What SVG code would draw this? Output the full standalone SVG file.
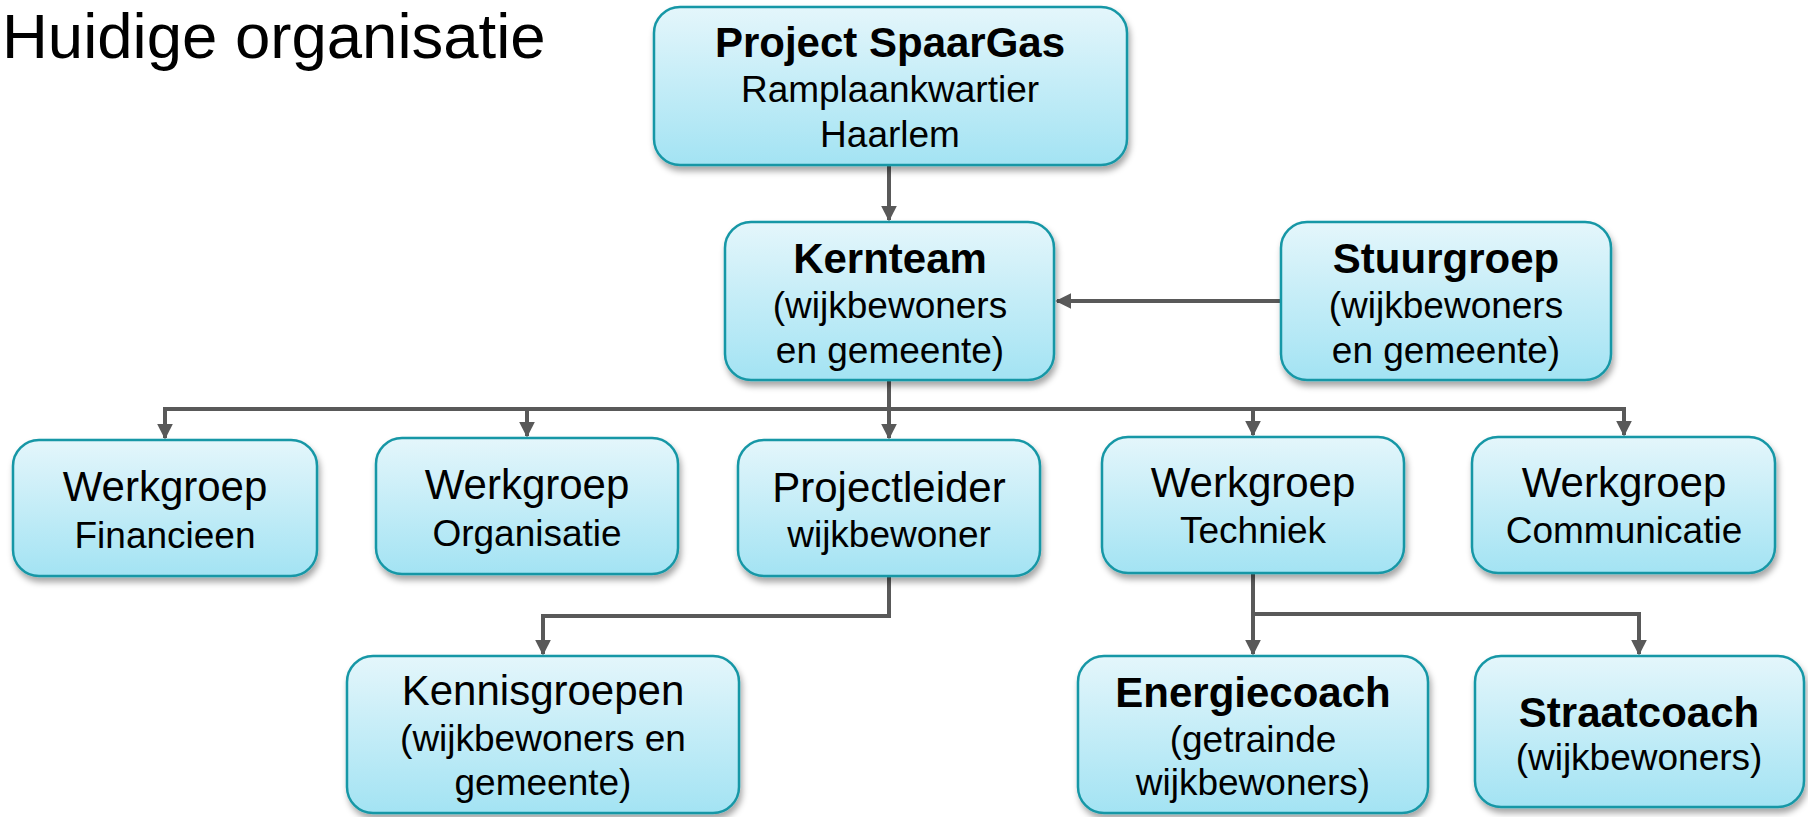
<svg xmlns="http://www.w3.org/2000/svg" width="1808" height="817" viewBox="0 0 1808 817">
<style>
.box{fill:url(#g);stroke:#1797a6;stroke-width:2.5;filter:url(#sh)}
text{font-family:"Liberation Sans",Arial,sans-serif;fill:#000;text-anchor:middle}
.b{font-weight:bold;font-size:42px}
.m{font-size:42px}
.s{font-size:37px}
.c{fill:none;stroke:#595959;stroke-width:4;marker-end:url(#ah)}
</style>
<defs>
<linearGradient id="g" x1="0" y1="0" x2="0" y2="1">
<stop offset="0" stop-color="#e4f6fb"/>
<stop offset="1" stop-color="#a3e3f3"/>
</linearGradient>
<filter id="sh" x="-10%" y="-10%" width="125%" height="130%">
<feDropShadow dx="2" dy="5" stdDeviation="3" flood-color="#000" flood-opacity="0.35"/>
</filter>
<marker id="ah" markerWidth="4" markerHeight="4" refX="3.6" refY="2" orient="auto" markerUnits="strokeWidth">
<path d="M0,0 L4,2 L0,4 Z" fill="#595959"/>
</marker>
</defs>
<rect width="1808" height="817" fill="#fff"/>
<text x="2" y="58" style="font-size:63.5px;text-anchor:start">Huidige organisatie</text>

<g id="connectors">
<path class="c" d="M889,165 V220"/>
<path class="c" d="M1281,301 H1057"/>
<path class="c" d="M889,380 V409 H165 V438"/>
<path class="c" d="M889,380 V409 H527 V436"/>
<path class="c" d="M889,380 V438"/>
<path class="c" d="M889,380 V409 H1253 V435"/>
<path class="c" d="M889,380 V409 H1624 V435"/>
<path class="c" d="M889,576 V616 H543 V654"/>
<path class="c" d="M1253,573 V654"/>
<path class="c" d="M1253,614 H1639 V654"/>
</g>

<g id="project">
<rect class="box" x="654" y="7" width="473" height="158" rx="26"/>
<text x="890" y="57" class="b">Project SpaarGas</text>
<text x="890" y="102" class="s">Ramplaankwartier</text>
<text x="890" y="147" class="s">Haarlem</text>
</g>
<g id="kernteam">
<rect class="box" x="725" y="222" width="329" height="158" rx="26"/>
<text x="890" y="273" class="b">Kernteam</text>
<text x="890" y="318" class="s">(wijkbewoners</text>
<text x="890" y="363" class="s">en gemeente)</text>
</g>
<g id="stuurgroep">
<rect class="box" x="1281" y="222" width="330" height="158" rx="26"/>
<text x="1446" y="273" class="b">Stuurgroep</text>
<text x="1446" y="318" class="s">(wijkbewoners</text>
<text x="1446" y="363" class="s">en gemeente)</text>
</g>
<g id="financieen">
<rect class="box" x="13" y="440" width="304" height="136" rx="26"/>
<text x="165" y="501" class="m">Werkgroep</text>
<text x="165" y="548" class="s">Financieen</text>
</g>
<g id="organisatie">
<rect class="box" x="376" y="438" width="302" height="136" rx="26"/>
<text x="527" y="499" class="m">Werkgroep</text>
<text x="527" y="546" class="s">Organisatie</text>
</g>
<g id="projectleider">
<rect class="box" x="738" y="440" width="302" height="136" rx="26"/>
<text x="889" y="502" class="m">Projectleider</text>
<text x="889" y="547" class="s">wijkbewoner</text>
</g>
<g id="techniek">
<rect class="box" x="1102" y="437" width="302" height="136" rx="26"/>
<text x="1253" y="497" class="m">Werkgroep</text>
<text x="1253" y="543" class="s">Techniek</text>
</g>
<g id="communicatie">
<rect class="box" x="1472" y="437" width="303" height="136" rx="26"/>
<text x="1624" y="497" class="m">Werkgroep</text>
<text x="1624" y="543" class="s">Communicatie</text>
</g>
<g id="kennisgroepen">
<rect class="box" x="347" y="656" width="392" height="157" rx="26"/>
<text x="543" y="705" class="m">Kennisgroepen</text>
<text x="543" y="751" class="s">(wijkbewoners en</text>
<text x="543" y="795" class="s">gemeente)</text>
</g>
<g id="energiecoach">
<rect class="box" x="1078" y="656" width="350" height="157" rx="26"/>
<text x="1253" y="707" class="b">Energiecoach</text>
<text x="1253" y="752" class="s">(getrainde</text>
<text x="1253" y="795" class="s">wijkbewoners)</text>
</g>
<g id="straatcoach">
<rect class="box" x="1475" y="656" width="329" height="151" rx="26"/>
<text x="1639" y="727" class="b">Straatcoach</text>
<text x="1639" y="770" class="s">(wijkbewoners)</text>
</g>
</svg>
